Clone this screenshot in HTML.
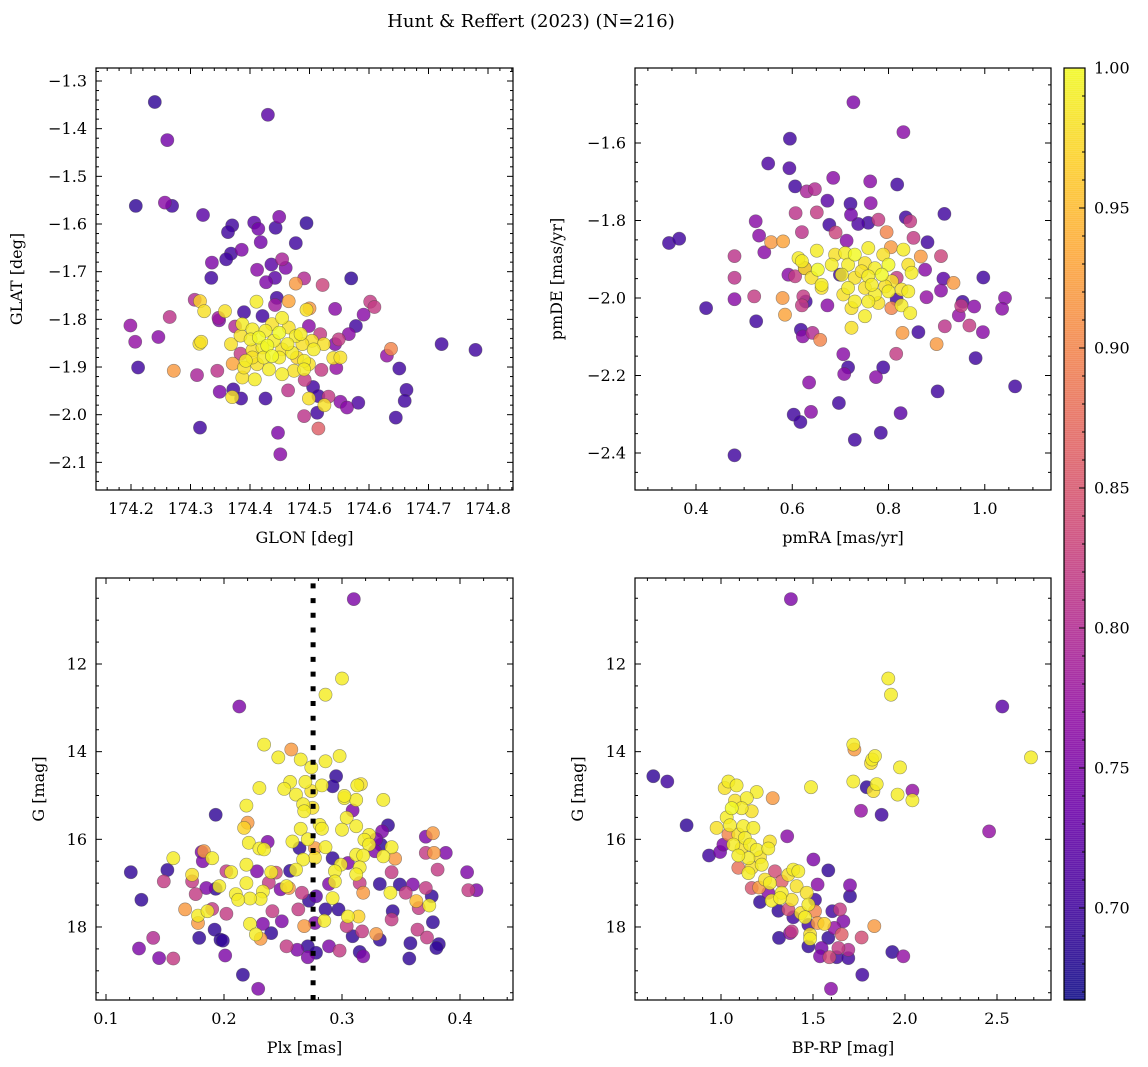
<!DOCTYPE html>
<html><head><meta charset="utf-8"><title>Hunt & Reffert (2023)</title>
<style>
html,body{margin:0;padding:0;background:#fff;}
svg{display:block;font-family:"DejaVu Serif","Liberation Serif",serif;}
</style></head>
<body>
<svg id="fig" width="1148" height="1067" viewBox="0 0 1148 1067" xmlns="http://www.w3.org/2000/svg">
<rect width="1148" height="1067" fill="#fff"/>
<text x="531" y="27" font-size="18" text-anchor="middle">Hunt &amp; Reffert (2023) (N=216)</text>
</svg>
<script>
// ---- Panel 1: GLON / GLAT / probability ----
const p1Glon = [174.240,174.430,174.261,174.208,174.257,174.269,174.321,174.370,174.363,174.407,174.414,174.443,174.449,174.495,174.418,174.477,174.386,174.368,174.360,174.336,174.436,174.454,174.460,174.412,174.442,174.427,174.335,174.477,174.491,174.522,174.570,174.445,174.442,174.465,174.307,174.316,174.323,174.358,174.347,174.348,174.390,174.411,174.495,174.500,174.543,174.602,174.609,174.591,174.578,174.566,174.549,174.543,174.265,174.199,174.207,174.246,174.212,174.272,174.311,174.345,174.371,174.349,174.372,174.370,174.385,174.426,174.464,174.492,174.506,174.515,174.499,174.532,174.525,174.552,174.563,174.582,174.513,174.491,174.515,174.447,174.451,174.316,174.520,174.545,174.540,174.552,174.630,174.637,174.651,174.663,174.660,174.645,174.722,174.779,174.518,174.499,174.375,174.384,174.315,174.318,174.368,174.421,
174.387,174.384,174.404,174.415,174.426,174.437,174.454,174.449,174.465,174.477,174.485,174.404,174.421,174.429,174.440,174.454,174.471,174.479,174.491,174.504,174.507,174.524,174.393,174.412,174.432,174.454,174.474,174.491,174.387,174.408,174.390,174.437,174.401,174.463,174.488,174.423,174.404,174.449,174.499];
const p1Glat = [-1.344,-1.371,-1.424,-1.562,-1.555,-1.562,-1.581,-1.603,-1.617,-1.597,-1.610,-1.608,-1.585,-1.598,-1.638,-1.640,-1.654,-1.662,-1.674,-1.681,-1.685,-1.674,-1.692,-1.696,-1.713,-1.722,-1.713,-1.725,-1.714,-1.728,-1.714,-1.755,-1.770,-1.762,-1.759,-1.762,-1.783,-1.783,-1.797,-1.802,-1.785,-1.763,-1.780,-1.777,-1.778,-1.763,-1.774,-1.790,-1.814,-1.831,-1.842,-1.852,-1.795,-1.813,-1.847,-1.837,-1.901,-1.908,-1.917,-1.908,-1.893,-1.952,-1.947,-1.963,-1.966,-1.966,-1.949,-1.927,-1.942,-1.961,-1.966,-1.962,-1.980,-1.973,-1.985,-1.975,-1.996,-2.003,-2.029,-2.038,-2.083,-2.027,-1.906,-1.902,-1.881,-1.880,-1.876,-1.862,-1.903,-1.948,-1.971,-2.006,-1.852,-1.864,-1.831,-1.814,-1.815,-1.872,-1.851,-1.847,-1.852,-1.793,
-1.810,-1.834,-1.821,-1.838,-1.824,-1.810,-1.797,-1.828,-1.817,-1.835,-1.831,-1.865,-1.859,-1.855,-1.845,-1.863,-1.870,-1.880,-1.887,-1.845,-1.863,-1.852,-1.887,-1.894,-1.905,-1.915,-1.908,-1.905,-1.922,-1.926,-1.901,-1.877,-1.842,-1.852,-1.852,-1.880,-1.880,-1.880,-1.894];
const p1Prob = [0.69,0.72,0.74,0.69,0.76,0.70,0.72,0.70,0.70,0.72,0.74,0.70,0.75,0.69,0.74,0.70,0.75,0.70,0.70,0.75,0.72,0.79,0.75,0.76,0.72,0.75,0.70,0.92,0.80,0.83,0.69,0.70,0.78,0.93,0.80,0.97,0.98,0.98,0.78,0.75,0.70,0.99,0.98,0.92,0.76,0.82,0.82,0.76,0.70,0.76,0.82,0.75,0.81,0.77,0.77,0.76,0.70,0.92,0.79,0.81,0.93,0.75,0.70,0.98,0.70,0.70,0.81,0.82,0.70,0.70,0.98,0.82,0.98,0.76,0.76,0.71,0.70,0.81,0.86,0.75,0.76,0.70,0.82,0.77,0.98,0.98,0.77,0.90,0.70,0.70,0.70,0.70,0.70,0.70,0.82,0.76,0.80,0.82,0.98,0.98,0.98,0.70,
0.99,0.98,0.99,1.00,0.99,0.98,0.99,1.00,0.98,0.99,0.99,0.98,0.99,1.00,0.99,0.98,0.99,0.97,0.99,0.98,0.99,0.98,0.99,0.98,0.99,0.99,0.98,0.99,0.98,0.99,0.98,1.00,0.99,0.99,0.98,0.99,0.98,0.99,0.98];

// ---- Panel 2: pmRA / pmDE / probability ----
const p2Pmra = [0.727,0.595,0.831,0.550,0.594,0.685,0.762,0.818,0.606,0.630,0.647,0.673,0.721,0.722,0.763,0.607,0.651,0.677,0.737,0.758,0.779,0.796,0.836,0.845,0.916,0.524,0.531,0.542,0.556,0.581,0.620,0.690,0.713,0.852,0.881,0.805,0.867,0.909,0.876,0.914,0.935,0.997,0.909,0.879,0.954,0.951,0.978,1.042,1.036,0.946,0.968,0.996,0.917,0.862,0.900,0.829,0.816,0.981,0.344,0.365,0.421,0.480,0.480,0.480,0.521,0.525,0.580,0.585,0.606,0.623,0.620,0.628,0.618,0.622,0.642,0.658,0.673,0.706,0.716,0.708,0.635,0.697,0.603,0.617,0.639,0.730,0.784,0.825,0.789,0.774,0.902,1.063,0.480,0.699,0.592,0.626,0.817,0.817,0.806,
0.613,0.626,0.651,0.653,0.640,0.661,0.689,0.710,0.730,0.758,0.789,0.831,0.716,0.751,0.772,0.800,0.841,0.848,0.703,0.730,0.758,0.786,0.807,0.716,0.751,0.772,0.800,0.827,0.841,0.706,0.730,0.758,0.779,0.827,0.723,0.751,0.723,0.845,0.661,0.620,0.682,0.744,0.765,0.793];
const p2Pmde = [-1.495,-1.589,-1.572,-1.653,-1.665,-1.690,-1.699,-1.707,-1.712,-1.725,-1.719,-1.749,-1.757,-1.785,-1.755,-1.781,-1.779,-1.811,-1.809,-1.806,-1.798,-1.830,-1.792,-1.802,-1.783,-1.802,-1.839,-1.882,-1.856,-1.854,-1.830,-1.831,-1.852,-1.845,-1.856,-1.869,-1.893,-1.892,-1.927,-1.950,-1.961,-1.947,-1.981,-1.998,-2.010,-2.020,-2.022,-2.000,-2.028,-2.045,-2.071,-2.088,-2.073,-2.088,-2.119,-2.090,-2.144,-2.155,-1.858,-1.847,-2.026,-1.892,-1.948,-2.003,-1.996,-2.060,-2.000,-2.043,-1.944,-1.996,-2.019,-2.009,-2.082,-2.099,-2.090,-2.108,-2.019,-2.145,-2.179,-2.196,-2.218,-2.271,-2.301,-2.320,-2.294,-2.366,-2.348,-2.297,-2.179,-2.204,-2.241,-2.228,-2.406,-1.940,-1.940,-1.923,-1.948,-2.004,-2.026,
-1.897,-1.923,-1.878,-1.927,-1.948,-1.966,-1.888,-1.884,-1.888,-1.871,-1.888,-1.875,-1.914,-1.910,-1.923,-1.914,-1.914,-1.935,-1.940,-1.948,-1.944,-1.940,-1.957,-1.974,-1.974,-1.991,-1.983,-1.978,-1.983,-1.991,-2.009,-2.009,-2.013,-2.019,-2.026,-2.047,-2.077,-2.039,-1.974,-1.905,-1.914,-1.931,-1.966,-1.970];
const p2Prob = [0.75,0.70,0.76,0.71,0.71,0.76,0.76,0.70,0.70,0.79,0.80,0.72,0.70,0.74,0.76,0.81,0.82,0.70,0.71,0.70,0.82,0.90,0.70,0.82,0.70,0.76,0.76,0.76,0.92,0.93,0.81,0.83,0.76,0.82,0.70,0.92,0.92,0.83,0.76,0.72,0.92,0.70,0.76,0.77,0.70,0.82,0.76,0.76,0.76,0.77,0.82,0.76,0.81,0.70,0.92,0.92,0.82,0.70,0.70,0.70,0.70,0.81,0.81,0.76,0.82,0.70,0.92,0.93,0.82,0.82,0.82,0.70,0.70,0.76,0.80,0.90,0.76,0.76,0.70,0.76,0.76,0.70,0.70,0.70,0.76,0.70,0.70,0.72,0.70,0.76,0.70,0.70,0.70,0.70,0.76,0.82,0.82,0.70,0.90,
0.99,0.98,0.99,1.00,0.98,0.99,0.98,0.99,1.00,0.99,0.98,0.99,0.99,0.98,0.99,1.00,0.98,0.99,0.99,0.98,0.99,1.00,0.98,0.99,0.98,0.99,0.99,0.98,0.99,0.98,0.99,0.99,0.98,0.99,0.98,0.99,0.98,0.99,0.98,0.99,0.99,0.98,0.99,0.98];

// ---- Panel 3: Plx / G / probability ----
const p3Plx = [0.310,0.300,0.286,0.213,0.234,0.257,0.246,0.265,0.274,0.286,0.298,0.295,0.292,0.283,0.274,0.256,0.251,0.261,0.269,0.230,0.313,0.316,0.302,0.312,0.309,0.302,0.304,0.312,0.300,0.335,0.267,0.268,0.275,0.219,0.193,0.281,0.283,0.265,0.217,0.220,0.258,0.271,0.221,0.237,0.230,0.234,0.264,0.286,0.292,0.267,0.277,0.323,0.319,0.323,0.312,0.318,0.334,0.339,0.329,0.342,0.335,0.345,0.328,0.342,0.371,0.377,0.371,0.378,0.388,0.381,0.406,0.407,0.414,0.371,0.363,0.374,0.376,0.365,0.360,0.354,0.349,0.332,0.341,0.318,0.315,0.315,0.312,0.299,0.294,0.294,0.289,0.305,0.292,0.266,0.272,0.278,0.286,0.297,0.263,0.255,0.253,0.248,0.238,0.233,0.231,0.222,0.219,0.210,0.212,0.228,0.240,0.244,0.256,0.261,0.219,0.206,0.202,0.196,0.193,0.185,0.190,0.183,0.181,0.182,0.173,0.173,0.176,0.157,0.152,0.149,0.121,0.130,0.167,0.178,0.186,0.190,0.202,0.178,0.192,0.179,0.197,0.199,0.201,0.140,0.128,0.145,0.157,0.216,0.229,0.222,0.227,0.231,0.233,0.240,0.241,0.249,0.253,0.262,0.271,0.271,0.278,0.268,0.277,0.285,0.289,0.298,0.304,0.305,0.314,0.317,0.309,0.315,0.318,0.329,0.332,0.342,0.343,0.358,0.357,0.364,0.372,0.377,0.382,0.380,0.277,0.333];
const p3G = [10.52,12.33,12.70,12.97,13.84,13.95,14.13,14.18,14.36,14.22,14.10,14.56,14.79,14.77,14.90,14.69,14.85,14.98,14.69,14.83,14.77,14.74,15.06,15.10,15.34,15.01,15.51,15.70,15.78,15.10,15.20,15.36,15.28,15.23,15.44,15.67,15.76,15.76,15.74,15.62,16.05,16.00,16.08,16.06,16.21,16.23,16.20,16.18,16.43,16.46,16.42,15.90,16.01,16.12,16.35,16.37,15.82,15.68,16.00,16.18,16.39,16.44,16.27,16.75,15.94,15.86,16.31,16.31,16.31,16.69,16.75,17.16,17.16,17.11,17.41,17.51,17.30,17.57,17.03,17.22,17.03,17.02,17.22,17.22,17.00,16.64,16.80,16.58,16.73,16.96,17.02,16.54,17.34,17.22,17.40,17.30,17.60,17.60,17.60,17.11,17.07,17.14,16.99,17.19,17.36,17.35,17.00,17.25,17.38,16.73,16.75,16.76,16.72,16.69,16.58,16.75,16.73,17.07,17.13,17.11,16.43,16.27,16.29,16.50,16.81,16.96,17.25,16.43,16.70,16.96,16.75,17.38,17.60,17.74,17.64,17.59,17.70,17.91,18.06,18.25,18.29,18.31,18.65,18.25,18.49,18.71,18.72,19.09,19.41,17.93,18.17,18.27,17.93,18.14,17.64,17.87,18.44,18.52,18.44,18.69,18.59,17.98,17.91,17.86,18.44,18.54,17.98,17.76,17.76,18.10,18.21,18.57,18.67,18.16,18.29,17.83,17.64,18.37,18.72,18.06,18.24,17.89,18.39,18.48,16.20,16.12];
const p3Prob = [0.75,0.99,0.99,0.75,0.99,0.92,0.99,0.99,0.99,0.99,0.99,0.69,0.69,0.99,0.98,0.99,0.99,0.99,0.99,0.99,0.99,0.98,0.99,0.99,0.75,0.99,0.99,0.99,0.99,0.99,0.99,0.99,0.98,0.99,0.69,0.99,0.99,0.99,0.97,0.92,0.99,0.99,0.99,0.75,0.99,0.99,0.69,0.99,0.69,0.99,0.98,0.99,0.99,0.99,0.99,0.99,0.75,0.69,0.75,0.99,0.99,0.92,0.75,0.82,0.75,0.92,0.82,0.92,0.75,0.82,0.75,0.82,0.75,0.82,0.95,0.99,0.69,0.82,0.75,0.82,0.69,0.69,0.99,0.92,0.82,0.99,0.99,0.99,0.99,0.99,0.75,0.75,0.99,0.82,0.69,0.72,0.69,0.69,0.82,0.92,0.99,0.75,0.82,0.99,0.99,0.99,0.99,0.99,0.99,0.75,0.99,0.84,0.69,0.99,0.99,0.99,0.82,0.99,0.69,0.75,0.99,0.92,0.75,0.75,0.98,0.82,0.82,0.99,0.69,0.82,0.69,0.69,0.92,0.99,0.99,0.82,0.82,0.92,0.69,0.69,0.69,0.69,0.75,0.80,0.75,0.75,0.82,0.69,0.75,0.99,0.99,0.92,0.75,0.69,0.82,0.75,0.82,0.75,0.69,0.75,0.69,0.92,0.75,0.99,0.75,0.82,0.82,0.99,0.97,0.82,0.69,0.69,0.75,0.92,0.69,0.82,0.69,0.69,0.69,0.82,0.82,0.69,0.69,0.69,0.92,0.69];

// ---- Panel 4: BP-RP / G / probability ----
const p4Bprp = [1.040,1.020,1.085,1.194,1.076,1.140,1.058,1.112,1.167,1.031,1.049,0.976,1.121,1.176,1.094,1.130,1.067,1.112,1.158,1.194,1.266,1.257,1.149,1.212,1.221,1.167,1.094,1.149,1.239,1.266,1.366,1.393,1.420,1.411,1.330,1.384,1.275,1.466,1.475,1.435,1.457,1.484,1.484,1.562,1.321,1.909,1.924,1.719,1.822,1.837,1.815,1.973,2.685,1.489,1.719,1.846,1.828,2.040,1.960,
1.725,1.281,1.040,1.094,1.167,1.207,1.293,1.330,1.366,1.511,1.525,1.656,1.764,1.833,1.589,1.638,1.692,1.384,
1.380,2.529,0.632,0.708,1.792,2.040,1.761,1.873,2.457,0.813,1.360,0.935,0.995,1.013,1.502,1.583,1.525,1.511,1.701,1.701,1.605,1.647,1.665,1.315,1.375,1.475,1.547,1.538,1.629,1.692,1.583,1.616,1.312,1.393,1.212,1.257,1.931,1.991,1.768,1.598,1.475];
const p4G = [14.68,14.83,14.77,14.92,15.12,15.06,15.29,15.29,15.36,15.50,15.68,15.74,15.70,15.74,15.89,15.97,16.12,16.20,16.12,16.24,16.05,16.21,16.43,16.41,16.58,16.65,16.37,16.77,16.92,17.00,16.81,16.69,16.73,17.07,17.22,17.38,17.40,17.22,17.49,17.68,17.78,18.17,18.27,17.93,17.34,12.33,12.70,13.84,14.18,14.10,14.26,14.36,14.13,14.81,14.68,14.74,14.90,15.11,14.98,
13.95,15.06,15.89,16.65,17.11,17.10,16.73,16.96,17.60,17.64,17.91,18.17,18.24,17.98,18.69,18.48,18.52,18.10,
10.52,12.97,14.56,14.68,14.81,14.89,15.35,15.44,15.82,15.68,15.93,16.37,16.29,16.12,16.46,16.71,17.03,17.38,17.05,17.30,17.64,17.60,17.87,18.25,18.14,18.44,18.48,18.67,18.69,18.71,18.25,18.02,17.63,17.78,17.43,17.22,18.57,18.67,19.09,19.41,17.95];
const p4Prob = [0.99,0.98,0.99,0.99,0.98,0.99,1.00,0.99,0.98,0.99,0.99,0.98,0.99,0.99,0.98,0.99,0.99,0.98,0.99,0.99,0.98,0.99,0.99,0.98,0.99,0.98,0.99,0.99,0.98,0.99,0.98,0.99,0.99,0.98,0.99,0.98,0.99,0.98,0.99,0.98,0.99,0.98,0.99,0.97,0.99,0.99,0.99,0.99,0.99,0.99,0.98,0.99,0.99,0.99,0.99,0.99,0.98,0.99,0.99,
0.92,0.92,0.90,0.88,0.85,0.92,0.84,0.86,0.84,0.90,0.92,0.86,0.84,0.92,0.84,0.82,0.80,0.82,
0.75,0.72,0.69,0.70,0.69,0.77,0.77,0.70,0.77,0.69,0.76,0.70,0.74,0.75,0.75,0.69,0.76,0.70,0.75,0.69,0.70,0.82,0.75,0.69,0.76,0.69,0.74,0.75,0.70,0.70,0.69,0.77,0.69,0.70,0.69,0.76,0.69,0.77,0.70,0.76,0.70];

const plxCut = [0.2755];
const cbarTicks = [0.70,0.75,0.80,0.85,0.90,0.95,1.00];
const VMIN = 0.6675, VMAX = 1.0;

const NS = "http://www.w3.org/2000/svg";
const svg = document.getElementById('fig');
function mk(tag, attrs, parent){
  const e = document.createElementNS(NS, tag);
  for (const k in attrs) e.setAttribute(k, attrs[k]);
  (parent||svg).appendChild(e);
  return e;
}
const plasmaStops = ["#0d0887","#41049d","#6a00a8","#8f0da4","#b12a90","#cc4778","#e16462","#f2844b","#fca636","#fcce25","#f0f921"];
function hex(h){return [parseInt(h.slice(1,3),16),parseInt(h.slice(3,5),16),parseInt(h.slice(5,7),16)];}
function plasma(t){
  t=Math.max(0,Math.min(1,t));
  const s=t*10, i=Math.min(9,Math.floor(s)), f=s-i;
  const a=hex(plasmaStops[i]), b=hex(plasmaStops[i+1]);
  return 'rgb('+a.map((v,k)=>Math.round(v+(b[k]-v)*f)).join(',')+')';
}
function colorOf(p){return plasma((p-VMIN)/(VMAX-VMIN));}
function fmt(v,d){const s=Math.abs(v).toFixed(d);return (v<-1e-9?'\u2212':'')+s;}

function drawPanel(c){
  const g = mk('g',{});
  
  
  const X = v => c.x0px + (v - c.x0) * c.xppu;
  const Y = v => c.y0px + (v - c.y0) * c.yppu;
  const xmin = c.x0 + (c.left - c.x0px)/c.xppu, xmax = c.x0 + (c.right - c.x0px)/c.xppu;
  const ya = c.y0 + (c.top - c.y0px)/c.yppu, yb = c.y0 + (c.bottom - c.y0px)/c.yppu;
  const ymin=Math.min(ya,yb), ymax=Math.max(ya,yb);
  const cp = mk('clipPath',{id:c.name+'-clip'},g);
  mk('rect',{x:c.left,y:c.top,width:c.right-c.left,height:c.bottom-c.top},cp);
  const idx = c.xs.map((_,i)=>i).sort((a,b)=>c.ps[a]-c.ps[b]);
  const pg = mk('g',{'clip-path':'url(#'+c.name+'-clip)'},g);
  
  
  idx.forEach(i=>{
    const pt = mk('circle',{cx:X(c.xs[i]).toFixed(1),cy:Y(c.ys[i]).toFixed(1),r:6.6,fill:colorOf(c.ps[i]),'fill-opacity':0.82,stroke:'rgba(70,70,70,0.55)','stroke-width':0.6},pg);
    
    
  });
  if (c.vline){
    c.vline.forEach(v=>{
      const ln = mk('line',{x1:X(v),x2:X(v),y1:c.bottom,y2:c.top,stroke:'#000','stroke-width':5,'stroke-dasharray':'5 9.7'},pg);
      
      
    });
  }
  const fr = mk('rect',{x:c.left,y:c.top,width:c.right-c.left,height:c.bottom-c.top,fill:'none',stroke:'#000','stroke-width':1.2},g);
  
  
  const tg = mk('g',{stroke:'#000','stroke-width':1},g);
  const xs0 = Math.ceil(xmin/c.xminor-1e-6);
  for(let k=xs0;k*c.xminor<=xmax+1e-9;k++){
    const v=k*c.xminor, px=X(v);
    const major = Math.abs(Math.round(v/c.xmajor)*c.xmajor - v) < c.xminor*0.1;
    const L = major?6:3;
    mk('line',{x1:px,x2:px,y1:c.bottom,y2:c.bottom-L},tg);
    mk('line',{x1:px,x2:px,y1:c.top,y2:c.top+L},tg);
    if(major){
      const t = mk('text',{x:px,y:c.bottom+24,'font-size':16,'text-anchor':'middle',stroke:'none',fill:'#000'},g);
      t.textContent = fmt(v,c.xdec);
      
      
    }
  }
  const ys0 = Math.ceil(ymin/c.yminor-1e-6);
  for(let k=ys0;k*c.yminor<=ymax+1e-9;k++){
    const v=k*c.yminor, py=Y(v);
    const major = Math.abs(Math.round(v/c.ymajor)*c.ymajor - v) < c.yminor*0.1;
    const L = major?6:3;
    mk('line',{x1:c.left,x2:c.left+L,y1:py,y2:py},tg);
    mk('line',{x1:c.right,x2:c.right-L,y1:py,y2:py},tg);
    if(major){
      const t = mk('text',{x:c.left-9,y:py+5.5,'font-size':16,'text-anchor':'end',stroke:'none',fill:'#000'},g);
      t.textContent = fmt(v,c.ydec);
      
      
    }
  }
  const xt = mk('text',{x:(c.left+c.right)/2,y:c.bottom+53,'font-size':16,'text-anchor':'middle'},g);
  xt.textContent = c.xlabel;
  
  
  const ty=(c.top+c.bottom)/2;
  const yt = mk('text',{x:c.ylx,y:ty,'font-size':16,'text-anchor':'middle',transform:'rotate(-90 '+c.ylx+' '+ty+')'},g);
  yt.textContent = c.ylabel;
  
  
}

drawPanel({name:'sky-position-panel',left:96,right:513,top:68,bottom:490,
  x0:174.2,x0px:131,xppu:595,y0:-1.3,y0px:81,yppu:-476.7,
  xmajor:0.1,xminor:0.02,ymajor:0.1,yminor:0.02,xdec:1,ydec:1,
  xs:p1Glon,ys:p1Glat,ps:p1Prob,xlabel:'GLON [deg]',ylabel:'GLAT [deg]',ylx:22});
drawPanel({name:'proper-motion-panel',left:635,right:1051,top:68,bottom:490,
  x0:0.4,x0px:696,xppu:481.3,y0:-1.6,y0px:143,yppu:-387.5,
  xmajor:0.2,xminor:0.05,ymajor:0.2,yminor:0.05,xdec:1,ydec:1,
  xs:p2Pmra,ys:p2Pmde,ps:p2Prob,xlabel:'pmRA [mas/yr]',ylabel:'pmDE [mas/yr]',ylx:562});
drawPanel({name:'parallax-magnitude-panel',left:96,right:513,top:578,bottom:1000,
  x0:0.1,x0px:106,xppu:1180,y0:12,y0px:664,yppu:43.83,
  xmajor:0.1,xminor:0.02,ymajor:2,yminor:0.5,xdec:1,ydec:0,
  xs:p3Plx,ys:p3G,ps:p3Prob,vline:plxCut,xlabel:'Plx [mas]',ylabel:'G [mag]',ylx:44});
drawPanel({name:'color-magnitude-panel',left:635,right:1051,top:578,bottom:1000,
  x0:1.0,x0px:721,xppu:184,y0:12,y0px:664,yppu:43.83,
  xmajor:0.5,xminor:0.1,ymajor:2,yminor:0.5,xdec:1,ydec:0,
  xs:p4Bprp,ys:p4G,ps:p4Prob,xlabel:'BP-RP [mag]',ylabel:'G [mag]',ylx:583});

(function(){
  const L=1064,R=1085,T=68,B=1000;
  const CY = v => T + (VMAX - v) * 2800;
  const g = mk('g',{});
  
  
  for(let y=T;y<B;y+=2){
    const v = VMAX - (y+1-T)/2800;
    mk('rect',{x:L,y:y,width:R-L,height:2.5,fill:colorOf(v),'fill-opacity':0.82},g);
  }
  mk('rect',{x:L,y:T,width:R-L,height:B-T,fill:'none',stroke:'#000','stroke-width':1.2},g);
  for(let k=67;k<=100;k++){
    const v=k/100; const py=CY(v);
    if(py<T-0.5||py>B+0.5) continue;
    const major = k%5===0;
    mk('line',{x1:R,x2:R-(major?6:3),y1:py,y2:py,stroke:'#000','stroke-width':1},g);
  }
  cbarTicks.forEach(v=>{
    const t = mk('text',{x:R+9,y:CY(v)+5.5,'font-size':16},g);
    t.textContent = v.toFixed(2);
    
    
  });
})();
</script>
</body></html>
